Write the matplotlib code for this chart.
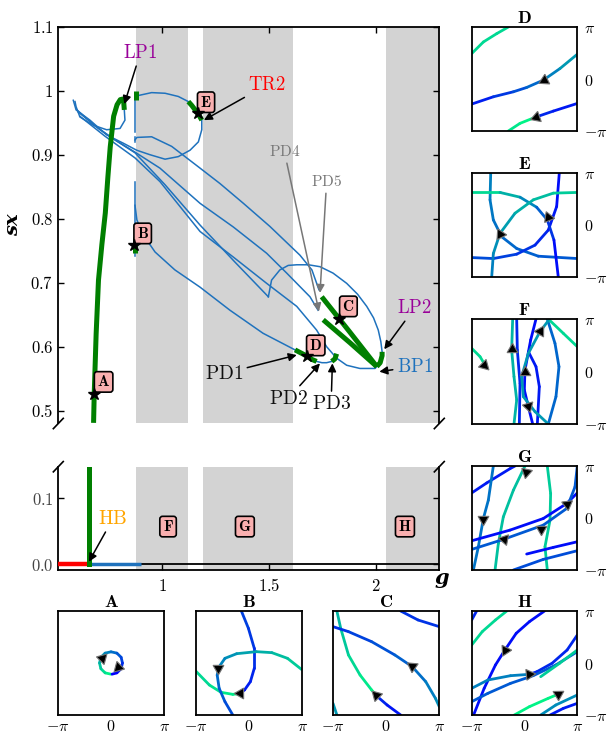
import numpy as np
import matplotlib
matplotlib.use("Agg")
import matplotlib.pyplot as plt
from matplotlib.collections import LineCollection

plt.rcParams['mathtext.fontset'] = 'cm'
plt.rcParams['font.family'] = ['DejaVu Serif']

# ---------------- data: bifurcation diagram ----------------
g_lim = (0.5127, 2.298)
bands = [(0.878, 1.122), (1.189, 1.612), (2.049, 2.35)]

# stable periodic branch (thick green) from HB up to LP1
main_g = [0.678, 0.681, 0.690, 0.701, 0.717, 0.733, 0.745, 0.756, 0.772, 0.788, 0.803, 0.815, 0.819, 0.822]
main_sx = [0.481, 0.526, 0.620, 0.704, 0.760, 0.809, 0.865, 0.912, 0.960, 0.978, 0.986, 0.987, 0.983, 0.970]

# small blue loop after LP1
loop1_g = [0.822, 0.825, 0.802, 0.739, 0.677, 0.614, 0.596, 0.591]
loop1_sx = [0.970, 0.954, 0.941, 0.939, 0.946, 0.959, 0.975, 0.983]

# top loop through E
top_g = [0.583, 0.596, 0.661, 0.739, 0.817, 0.880, 0.942, 1.013, 1.075, 1.130, 1.169, 1.185, 1.185]
top_sx = [0.985, 0.970, 0.954, 0.931, 0.918, 0.907, 0.900, 0.893, 0.897, 0.907, 0.920, 0.939, 0.954]
top2_g = [1.122, 1.075, 1.013, 0.950, 0.895, 0.880]
top2_sx = [0.983, 0.991, 0.996, 0.997, 0.993, 0.992]
segE_g = [1.185, 1.170, 1.154, 1.138, 1.122]
segE_sx = [0.954, 0.963, 0.970, 0.977, 0.983]

# vertical dashed branch near g=0.873
vert_g = 0.873
vert_parts = [(0.936, 0.985), (0.920, 0.928), (0.741, 0.858)]
segB_sx = (0.746, 0.772)
segTop_sx = (0.985, 0.999)

# fan of period-doubled branches
fan1_g = [0.872, 0.881, 0.950, 1.044, 1.177, 1.270, 1.380, 1.504, 1.645, 1.701, 1.734]
fan1_sx = [0.923, 0.927, 0.928, 0.913, 0.879, 0.855, 0.824, 0.788, 0.743, 0.720, 0.689]
fan2_g = [0.600, 0.685, 0.778, 0.872, 0.989, 1.177, 1.333, 1.489, 1.583, 1.692, 1.730]
fan2_sx = [0.970, 0.945, 0.923, 0.904, 0.879, 0.824, 0.787, 0.746, 0.715, 0.678, 0.657]
fan3_g = [0.614, 0.731, 0.872, 0.989, 1.177, 1.333, 1.489, 1.630, 1.723, 1.770, 1.817, 1.864, 1.926, 1.997, 2.005]
fan3_sx = [0.960, 0.929, 0.895, 0.858, 0.780, 0.740, 0.699, 0.663, 0.626, 0.600, 0.582, 0.571, 0.566, 0.566, 0.569]
fan5_g = [0.605, 0.708, 0.802, 0.872, 1.013, 1.177, 1.341, 1.497]
fan5_sx = [0.967, 0.939, 0.918, 0.903, 0.853, 0.790, 0.732, 0.678]
ell_g = [1.497, 1.512, 1.551, 1.590, 1.630, 1.685, 1.739, 1.800, 1.864, 1.915, 1.958, 1.990, 2.012, 2.024, 2.030]
ell_sx = [0.678, 0.704, 0.720, 0.727, 0.728, 0.728, 0.725, 0.715, 0.699, 0.682, 0.663, 0.645, 0.626, 0.608, 0.592]
lineD_g = [0.872, 0.881, 0.910, 0.966, 1.059, 1.177, 1.317, 1.472, 1.622]
lineD_sx = [0.821, 0.798, 0.775, 0.748, 0.720, 0.693, 0.657, 0.621, 0.595]
segD_g = [1.622, 1.651, 1.680, 1.702, 1.723]
segD_sx = [0.595, 0.590, 0.585, 0.580, 0.577]
pd3_g = [1.723, 1.748, 1.770, 1.794]
pd3_sx = [0.577, 0.575, 0.575, 0.577]
segPD3_g = [1.794, 1.809, 1.817]
segPD3_sx = [0.577, 0.581, 0.589]
segCup_g = [1.747, 1.876, 2.005]
segCup_sx = [0.678, 0.624, 0.569]
segClo_g = [1.754, 1.880, 2.005]
segClo_sx = [0.642, 0.606, 0.569]
segLP2_g = [2.005, 2.021, 2.030, 2.030]
segLP2_sx = [0.569, 0.575, 0.586, 0.592]

stars_g = [0.681, 0.869, 1.829, 1.680, 1.166]
stars_sx = [0.526, 0.759, 0.644, 0.585, 0.965]
box_names = ['A', 'B', 'C', 'D', 'E']
box_g = [0.725, 0.908, 1.872, 1.719, 1.205]
box_sx = [0.545, 0.777, 0.663, 0.602, 0.982]

# annotations: label, colour, text (g, sx), tip (g, sx), fontsize
notes = [
    ('LP1', '#990099', (0.897, 1.059), (0.822, 0.979), 13.5),
    ('TR2', '#ff0000', (1.489, 1.009), (1.195, 0.954), 13.5),
    ('PD4', '#777777', (1.572, 0.905), (1.734, 0.655), 11),
    ('PD5', '#777777', (1.770, 0.858), (1.739, 0.684), 11),
    ('LP2', '#990099', (2.181, 0.660), (2.040, 0.596), 13.5),
    ('BP1', '#1f72bd', (2.184, 0.569), (2.017, 0.561), 13.5),
    ('PD1', '#111111', (1.289, 0.558), (1.630, 0.587), 14),
    ('PD2', '#111111', (1.590, 0.519), (1.739, 0.574), 14),
    ('PD3', '#111111', (1.791, 0.510), (1.797, 0.574), 14),
]

# lower panel (sx near 0)
eq_stable_g = [0.5127, 0.656]
eq_unst_g = [0.656, 0.900]
hb_g = 0.658
low_names = ['F', 'G', 'H']
low_g = [1.027, 1.387, 2.137]
low_y = 0.057

# ---------------- data: phase portraits (units of pi) ----------------
# each curve: (u list, v list, colour start, colour end)
pA = [([0.0, -0.11, -0.19, -0.215, -0.19, -0.11, 0.0, 0.11, 0.19, 0.215, 0.19, 0.11, 0.02],
       [-0.215, -0.19, -0.11, 0.0, 0.11, 0.19, 0.215, 0.19, 0.11, 0.0, -0.11, -0.19, -0.215], 0.95, 0.0)]
aA = [(-0.16, 0.105, 0.7, 0.7), (0.14, -0.086, -0.7, -0.7)]

pB = [([-0.143, -0.011, 0.099, 0.099, 0.026, -0.084, -0.194], [1.0, 0.667, 0.282, -0.103, -0.359, -0.519, -0.59], 0.25, 0.08),
      ([-0.194, -0.304, -0.524, -0.744, -1.0], [-0.59, -0.603, -0.564, -0.423, -0.154], 0.95, 0.85),
      ([1.0, 0.722, 0.429, 0.136, -0.231, -0.451, -0.56, -0.597, -0.56, -0.451, -0.304],
       [-0.135, 0.090, 0.199, 0.218, 0.179, 0.090, -0.071, -0.231, -0.487, -0.744, -1.0], 0.8, 0.3)]
aB = [(-0.58, -0.10, 0.0, -1.0), (-0.17, -0.585, -1.0, 0.0)]

pC = [([-0.927, -0.855, -0.709, -0.491, -0.273, -0.164], [1.0, 0.667, 0.154, -0.231, -0.519, -0.647], 0.72, 0.97),
      ([-0.164, 0.018, 0.273], [-0.647, -0.808, -1.0], 0.15, 0.08),
      ([-1.0, -0.709, -0.273, 0.164, 0.491, 0.745, 0.927, 1.0], [0.699, 0.603, 0.410, 0.154, -0.071, -0.359, -0.679, -0.84], 0.2, 0.55),
      ([0.273, 0.6, 1.0], [1.0, 0.827, 0.699], 0.2, 0.2),
      ([-1.0, -0.927], [-0.776, -1.0], 0.6, 0.6)]
aC = [(0.49, -0.06, -1.0, 0.7), (-0.2, -0.62, -1.0, 1.0)]

pD = [([-1.0, -0.779, -0.527, -0.306], [0.489, 0.712, 0.872, 1.0], 0.85, 0.85),
      ([-1.0, -0.590, -0.211, 0.041, 0.356, 0.672, 1.0], [-0.482, -0.342, -0.246, -0.163, -0.022, 0.201, 0.476], 0.12, 0.6),
      ([-0.306, -0.085, 0.199], [-1.0, -0.853, -0.738], 0.9, 0.95),
      ([0.199, 0.546, 1.0], [-0.738, -0.617, -0.470], 0.15, 0.1)]
aD = [(0.37, -0.02, -1.0, -0.5), (0.22, -0.73, -1.0, -0.35)]

pE = [([-0.640, -0.653, -0.590, -0.432, -0.148, 0.262, 1.0], [1.0, 0.484, 0.097, -0.226, -0.452, -0.600, -0.645], 0.5, 0.35),
      ([-1.0, -0.590, -0.148, 0.199, 0.451, 0.609, 0.659], [-0.626, -0.645, -0.561, -0.387, -0.097, 0.355, 1.0], 0.3, 0.05),
      ([-1.0, -0.464, -0.085, 0.230, 0.432, 0.558, 0.640], [0.626, 0.626, 0.535, 0.342, 0.097, -0.290, -1.0], 0.85, 0.05),
      ([-0.621, -0.590, -0.464, -0.180, 0.167, 0.546, 1.0], [-1.0, -0.548, -0.161, 0.226, 0.484, 0.613, 0.626], 0.5, 0.8)]
aE = [(-0.47, -0.17, -0.5, 1.0), (0.44, 0.15, -0.4, 1.0)]

pF = [([-1.0, -0.842, -0.748], [0.441, 0.283, 0.124], 0.85, 0.85),
      ([-0.224, -0.243, -0.199, -0.148, -0.199], [1.0, 0.410, -0.098, -0.543, -1.0], 0.7, 0.7),
      ([-0.148, -0.136, -0.085, -0.098], [1.0, 0.410, -0.225, -1.0], 0.15, 0.15),
      ([0.218, 0.117, 0.009, -0.003, 0.073, 0.155], [1.0, 0.6, 0.029, -0.352, -0.670, -1.0], 0.05, 0.05),
      ([0.073, 0.218, 0.281, 0.243], [0.378, 0.092, -0.289, -1.0], 0.1, 0.1),
      ([0.432, 0.577, 0.653, 0.596, 0.451], [1.0, 0.537, 0.092, -0.479, -1.0], 0.4, 0.4),
      ([0.451, 0.735, 1.0], [1.0, 0.727, 0.473], 0.85, 0.85),
      ([0.451, 0.293, 0.073, -0.054, -0.022, 0.199, 0.451], [0.968, 0.759, 0.346, -0.098, -0.479, -0.765, -1.0], 0.6, 0.6)]
aF = [(-0.76, 0.12, 1.0, -1.0), (-0.24, 0.42, 0.0, 1.0), (0.0, 0.0, 0.0, 1.0), (0.06, -0.66, 0.3, -1.0), (0.30, 0.78, 0.6, 1.0)]

pG = [([-1.0, -0.716, -0.274, -0.180], [0.482, 0.674, 0.949, 1.0], 0.1, 0.1),
      ([-0.590, -0.685, -0.779, -0.874, -0.968], [1.0, 0.342, -0.010, -0.553, -1.0], 0.45, 0.45),
      ([0.009, -0.211, -0.401, -0.495, -0.558], [1.0, 0.534, 0.022, -0.489, -1.0], 0.75, 0.75),
      ([0.432, 0.495, 0.483, 0.388, 0.432], [1.0, 0.470, -0.042, -0.553, -1.0], 0.8, 0.8),
      ([-1.0, -0.274, 0.356, 0.798, 1.0], [-0.438, -0.233, -0.010, 0.278, 0.482], 0.05, 0.05),
      ([-1.0, -0.401, 0.356, 0.798, 0.956, 1.0], [-0.604, -0.412, -0.137, 0.182, 0.597, 1.0], 0.35, 0.35),
      ([0.041, 0.546, 1.0], [-0.693, -0.565, -0.457], 0.05, 0.05),
      ([-0.211, 0.356, 1.0], [-1.0, -0.796, -0.629], 0.3, 0.3)]
aG = [(-0.78, -0.02, 0.0, -1.0), (0.03, 0.88, -0.2, -1.0), (0.81, 0.27, 0.8, 0.6), (-0.38, -0.40, -1.0, 0.2), (0.32, -0.22, 0.0, -1.0)]

pH = [([-0.964, -0.764, -0.55, -0.371, -0.157, 0.093, 0.379], [-1.0, -0.487, -0.038, 0.25, 0.571, 0.795, 1.0], 0.05, 0.05),
      ([-1.0, -0.907], [0.827, 1.0], 0.15, 0.15),
      ([1.0, 0.807, 0.521, 0.236, 0.093], [0.538, 0.25, -0.006, -0.167, -0.218], 0.15, 0.15),
      ([0.093, -0.264, -0.693, -1.0], [-0.218, -0.244, -0.327, -0.487], 0.5, 0.5),
      ([-1.0, -0.693, -0.264, 0.164, 0.593, 1.0], [-0.744, -0.583, -0.391, -0.244, -0.038, 0.218], 0.35, 0.35),
      ([-1.0, -0.8, -0.55, -0.336], [0.346, 0.603, 0.827, 1.0], 0.85, 0.85),
      ([0.307, 0.664, 1.0], [-0.263, -0.006, 0.25], 0.8, 0.8),
      ([-0.193, 0.093, 0.45, 0.629], [-1.0, -0.840, -0.679, -0.603], 0.95, 0.95),
      ([0.307, 0.593, 1.0], [-1.0, -0.808, -0.615], 0.55, 0.55),
      ([0.486, 0.736, 1.0], [-1.0, -0.872, -0.776], 0.1, 0.1)]
aH = [(-0.37, 0.25, -0.5, -1.0), (0.09, -0.22, 1.0, 0.1), (0.63, -0.60, 1.0, 0.6)]

# ---------------- drawing ----------------
fig = plt.figure(figsize=(6.08, 7.35), dpi=100)
W, H = 608.0, 735.0

def px_axes(x0, y0, x1, y1):
    return fig.add_axes([x0 / W, 1 - y1 / H, (x1 - x0) / W, (y1 - y0) / H])

blue = '#1f72bd'
green = '#007f00'
pink = '#f9b0b0'

ax1 = px_axes(58.3, 26.7, 439.3, 423.5)
ax2 = px_axes(58.3, 466.7, 439.3, 570.0)

for ax in (ax1, ax2):
    for a, b in bands:
        ax.axvspan(a, b, color='#d3d3d3', lw=0, zorder=0)
    ax.set_xlim(*g_lim)
    for s in ax.spines.values():
        s.set_linewidth(1.3)

# main panel
ax1.set_ylim(0.48, 1.1)
thin = dict(color=blue, lw=1.1, zorder=2)
thick = dict(color=green, lw=3.6, zorder=3, solid_capstyle='butt')
for gg, ss in [(loop1_g, loop1_sx), (top_g, top_sx), (top2_g, top2_sx), (fan1_g, fan1_sx),
               (fan2_g, fan2_sx), (fan3_g, fan3_sx), (fan5_g, fan5_sx), (ell_g, ell_sx),
               (lineD_g, lineD_sx), (pd3_g, pd3_sx)]:
    ax1.plot(gg, ss, **thin)
for lo, hi in vert_parts:
    ax1.plot([vert_g, vert_g], [lo, hi], **thin)
ax1.plot(main_g, main_sx, **thick)
for gg, ss in [(segE_g, segE_sx), (segD_g, segD_sx), (segPD3_g, segPD3_sx),
               (segCup_g, segCup_sx), (segClo_g, segClo_sx), (segLP2_g, segLP2_sx)]:
    ax1.plot(gg, ss, **thick)
ax1.plot([vert_g, vert_g], segB_sx, **thick)
ax1.plot([0.878, 0.878], segTop_sx, **thick)

for lab, col, (tg, ts), (pg, ps), fs in notes:
    ax1.annotate(r'$\mathrm{%s}$' % lab, xy=(pg, ps), xytext=(tg, ts), color=col,
                 fontsize=fs, ha='center', va='center', zorder=6,
                 arrowprops=dict(arrowstyle='-|>', color='#777777' if col == '#777777' else 'k',
                                 lw=1.1, shrinkA=1, shrinkB=0, mutation_scale=12))

for n, gg, ss in zip(box_names, box_g, box_sx):
    ax1.text(gg, ss, r'$\mathbf{%s}$' % n, fontsize=11, ha='center', va='center', zorder=7,
             bbox=dict(boxstyle='round,pad=0.18', fc=pink, ec='k', lw=1.2))
ax1.plot(stars_g, stars_sx, ls='none', marker='*', ms=9, mfc='k', mec='k', zorder=8)

ax1.spines['bottom'].set_visible(False)
ax1.set_xticks([1, 1.5, 2])
ax1.tick_params(axis='x', top=True, bottom=False, labelbottom=False, direction='in', length=4, width=1)
yt = [0.5, 0.6, 0.7, 0.8, 0.9, 1.0, 1.1]
ax1.set_yticks(yt)
ax1.set_yticklabels([r'$\mathbf{0.5}$', r'$\mathbf{0.6}$', r'$\mathbf{0.7}$', r'$\mathbf{0.8}$',
                     r'$\mathbf{0.9}$', r'$\mathbf{1}$', r'$\mathbf{1.1}$'], fontsize=12)
ax1.tick_params(axis='y', left=True, right=True, direction='in', length=4, width=1)
ax1.set_ylabel('sx', fontsize=14, fontstyle='italic', fontweight='bold', labelpad=6)

# lower panel
ax2.set_ylim(-0.009, 0.148)
ax2.plot(g_lim, [0, 0], color='k', lw=1.3, zorder=2)
ax2.plot(eq_stable_g, [0, 0], color='red', lw=3.2, zorder=3, solid_capstyle='butt')
ax2.plot(eq_unst_g, [0, 0], color=blue, lw=2.5, zorder=3, solid_capstyle='butt')
ax2.plot([hb_g, hb_g], [0, 0.16], color=green, lw=3.6, zorder=3, clip_on=True)
ax2.annotate(r'$\mathrm{HB}$', xy=(0.656, 0.0035), xytext=(0.768, 0.0685), color='orange',
             fontsize=14, ha='center', va='center',
             arrowprops=dict(arrowstyle='-|>', color='k', lw=1.1, shrinkA=1, shrinkB=0, mutation_scale=12))
for n, gg in zip(low_names, low_g):
    ax2.text(gg, low_y, r'$\mathbf{%s}$' % n, fontsize=11, ha='center', va='center', zorder=7,
             bbox=dict(boxstyle='round,pad=0.18', fc=pink, ec='k', lw=1.2))
ax2.spines['top'].set_visible(False)
ax2.set_xticks([1, 1.5, 2])
ax2.set_xticklabels([r'$\mathbf{1}$', r'$\mathbf{1.5}$', r'$\mathbf{2}$'], fontsize=12)
ax2.tick_params(axis='x', direction='in', length=4, width=1, pad=6)
ax2.set_yticks([0.0, 0.1])
ax2.set_yticklabels([r'$0.0$', r'$0.1$'], fontsize=12, color='#444444')
ax2.tick_params(axis='y', left=True, right=True, direction='in', length=4, width=1)
fig.text(442 / W, 1 - 578 / H, 'g', fontsize=15, fontstyle='italic', fontweight='bold',
         ha='center', va='center')

# break marks
dx1, dy1 = 0.013, 0.013
for xx in (0, 1):
    ax1.plot([xx - dx1, xx + dx1], [-dy1, dy1], transform=ax1.transAxes, color='k', lw=1.2, clip_on=False)
dy2 = 0.05
for xx in (0, 1):
    ax2.plot([xx - dx1, xx + dx1], [1 - dy2, 1 + dy2], transform=ax2.transAxes, color='k', lw=1.2, clip_on=False)

# phase portraits
cmap = plt.cm.winter
pi_lbl = [r'$-\pi$', r'$0$', r'$\pi$']

def draw_panel(box, curves, arrows, title, xlab, ylab):
    ax = px_axes(*box)
    for u, v, c0, c1 in curves:
        pts = np.column_stack([np.array(u) * np.pi, np.array(v) * np.pi]).reshape(-1, 1, 2)
        segs = np.concatenate([pts[:-1], pts[1:]], axis=1)
        cols = cmap(np.linspace(c0, c1, len(segs)))
        ax.add_collection(LineCollection(segs, colors=cols, lw=2.0, capstyle='round'))
    for u, v, du, dv in arrows:
        ang = np.degrees(np.arctan2(dv, du)) - 90
        ax.plot(u * np.pi, v * np.pi, ls='none', marker=(3, 0, ang), ms=9,
                mfc='k', mec='0.45', mew=0.8, zorder=5)
    ax.set_xlim(-np.pi, np.pi)
    ax.set_ylim(-np.pi, np.pi)
    ax.set_title(r'$\mathbf{%s}$' % title, fontsize=13, pad=3)
    for s in ax.spines.values():
        s.set_linewidth(1.3)
    ax.tick_params(length=0, labelsize=11.5)
    ax.tick_params(axis='x', pad=2)
    ax.tick_params(axis='y', pad=5)
    if xlab:
        ax.set_xticks([-np.pi, 0, np.pi])
        ax.set_xticklabels(pi_lbl)
    else:
        ax.set_xticks([])
    if ylab:
        ax.yaxis.tick_right()
        ax.set_yticks([-np.pi, 0, np.pi])
        ax.set_yticklabels(pi_lbl)
    else:
        ax.set_yticks([])
    return ax

draw_panel((471.7, 27, 577.3, 131), pD, aD, 'D', False, True)
draw_panel((471.7, 173, 577.3, 277), pE, aE, 'E', False, True)
draw_panel((471.7, 319, 577.3, 424), pF, aF, 'F', False, True)
draw_panel((471.7, 466, 577.3, 570), pG, aG, 'G', False, True)
draw_panel((471.7, 611, 577.3, 715), pH, aH, 'H', True, True)
draw_panel((57.7, 611, 164.3, 715), pA, aA, 'A', True, False)
draw_panel((195.7, 611, 302.3, 715), pB, aB, 'B', True, False)
draw_panel((333.0, 611, 439.3, 715), pC, aC, 'C', True, False)

fig.savefig('out.png', dpi=100)
